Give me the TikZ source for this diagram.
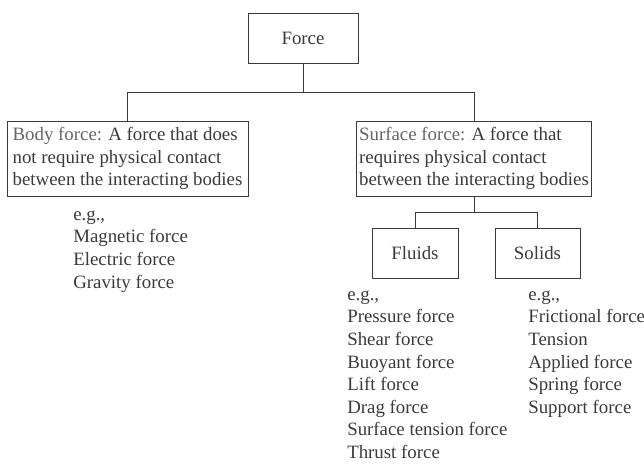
\documentclass[tikz,border=0pt]{standalone}
\usepackage{fontspec}
\setmainfont{Liberation Serif}
\usepackage{xcolor}
\definecolor{Ink}{HTML}{3A3A3A}
\definecolor{Faded}{HTML}{666666}

\begin{document}
\begin{tikzpicture}[x=0.025cm,y=-0.025cm,every node/.style={font=\fontsize{13.4}{16.1}\selectfont,text=Ink},box/.style={draw=Ink,line width=0.6pt,minimum height=1.25cm},wide/.style={box,minimum height=1.875cm,align=left,inner xsep=0.05cm,inner ysep=1pt},list/.style={anchor=north west,inner sep=0pt,align=left},link/.style={draw=Ink,line width=0.6pt}]
\useasboundingbox (0,0) rectangle (644,463);

% top of the tree
\node[box,minimum width=2.75cm] (force) at (303,38) {Force};
\node[wide,minimum width=6.025cm] (body) at (127.5,158.5) {\textcolor{Faded}{Body force:} A force that does\\not require physical contact\\between the interacting bodies};
\node[wide,minimum width=5.875cm] (surface) at (474,158.5) {\textcolor{Faded}{Surface force:} A force that\\requires physical contact\\between the interacting bodies};
\draw[link] (force.south) -- ++(0,29) coordinate (split); \draw[link] (body.north) |- (split) -| (surface.north);

% surface forces split
\node[box,minimum width=2.15cm] (fluids) at (415,253) {Fluids};
\node[box,minimum width=2.125cm] (solids) at (537.5,253) {Solids};
\draw[link] (surface.south) -- ++(0,16) coordinate (fork); \draw[link] (fluids.north) |- (fork) -| (solids.north);

% examples
\node[list] (bodyeg) at (73,204) {\strut e.g.,\\Magnetic force\\Electric force\\Gravity force};
\node[list] (fluideg) at (347,284) {\strut e.g.,\\Pressure force\\Shear force\\Buoyant force\\Lift force\\Drag force\\Surface tension force\\Thrust force};
\node[list] (solideg) at (528,284) {\strut e.g.,\\Frictional force\\Tension\\Applied force\\Spring force\\Support force};

\end{tikzpicture}
\end{document}
